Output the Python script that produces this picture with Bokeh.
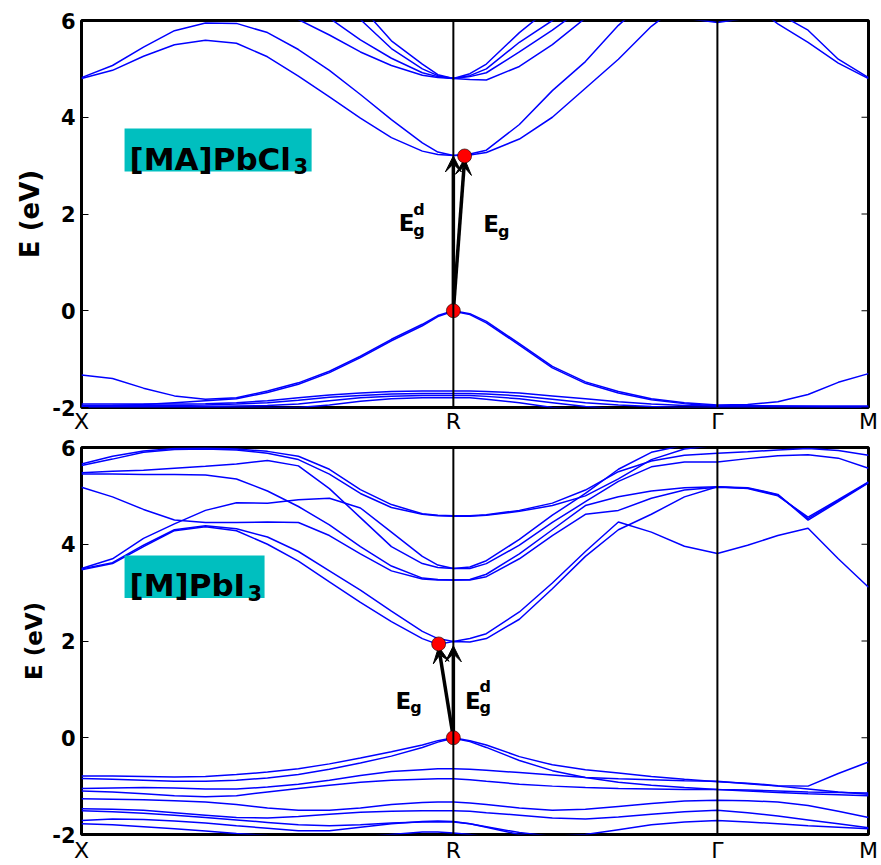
import math
from bokeh.plotting import figure
from bokeh.layouts import column
from bokeh.models import (Range1d, FixedTicker, Span, Label,
                          BoxAnnotation, Arrow, VeeHead)
from bokeh.embed import file_html
from bokeh.resources import INLINE

# ---------------- k-path sampling (fraction of path X-R-Gamma-M) ----------------
kpath = [0.0, 0.0394, 0.0788, 0.1181, 0.1575, 0.1969, 0.2363, 0.2756, 0.3150, 0.3544,
         0.3938, 0.4331, 0.4528, 0.4725,
         0.4935, 0.5144, 0.5564, 0.5983, 0.6403, 0.6822, 0.7241, 0.7661, 0.8080,
         0.8464, 0.8848, 0.9232, 0.9616, 1.0]
k_ticks = [0.0, 0.4725, 0.808, 1.0]
k_labels = ["X", "R", "Γ", "M"]
e_ticks = [-2, 0, 2, 4, 6]
e_labels = ["-2", "0", "2", "4", "6"]

# ---------------- [MA]PbCl3 bands (eV) ----------------
cl_v1 = [-1.33, -1.40, -1.60, -1.76, -1.83, -1.80, -1.66, -1.49, -1.25, -0.94, -0.59, -0.28, -0.10, 0.00,
         -0.06, -0.22, -0.68, -1.15, -1.47, -1.67, -1.82, -1.90, -1.95,
         -1.94, -1.88, -1.73, -1.48, -1.30]
cl_v2 = [-1.97, -1.96, -1.94, -1.90, -1.86, -1.82, -1.69, -1.52, -1.28, -0.97, -0.62, -0.31, -0.12, -0.01,
         -0.08, -0.25, -0.71, -1.18, -1.50, -1.70, -1.84, -1.92, -1.97,
         -1.96, -1.97, -1.98, -1.99, -2.00]
cl_l1 = [-1.93, -1.93, -1.93, -1.93, -1.92, -1.90, -1.86, -1.80, -1.74, -1.70, -1.67, -1.66, -1.66, -1.66,
         -1.66, -1.67, -1.70, -1.76, -1.82, -1.88, -1.93, -1.96, -1.97,
         -1.97, -1.97, -1.97, -1.97, -1.97]
cl_l2 = [-1.96, -1.96, -1.96, -1.96, -1.95, -1.93, -1.90, -1.85, -1.79, -1.75, -1.72, -1.71, -1.71, -1.71,
         -1.71, -1.72, -1.76, -1.83, -1.90, -1.95, -1.98, -2.00, -2.00,
         -2.00, -2.00, -2.00, -2.00, -1.99]
cl_l3 = [-1.98, -1.98, -1.98, -1.98, -1.98, -1.97, -1.96, -1.93, -1.86, -1.80, -1.77, -1.75, -1.75, -1.75,
         -1.75, -1.77, -1.82, -1.90, -1.98, -2.03, -2.06, -2.08, -2.08,
         -2.08, -2.08, -2.08, -2.08, -2.08]
cl_l4 = [-2.00, -2.00, -2.00, -2.00, -2.00, -2.00, -2.00, -2.00, -1.95, -1.87, -1.82, -1.80, -1.80, -1.80,
         -1.80, -1.83, -1.90, -2.00, -2.05, -2.10, -2.12, -2.13, -2.13,
         -2.13, -2.13, -2.13, -2.13, -2.13]
cl_c1 = [4.80, 4.97, 5.26, 5.50, 5.59, 5.53, 5.25, 4.85, 4.42, 3.98, 3.58, 3.30, 3.23, 3.21,
         3.24, 3.32, 3.85, 4.55, 5.15, 5.90, 6.50, 6.80, 6.90,
         6.40, 5.93, 5.55, 5.12, 4.80]
cl_c2 = [4.82, 5.07, 5.45, 5.79, 5.95, 5.94, 5.75, 5.40, 4.97, 4.47, 3.95, 3.47, 3.28, 3.21,
         3.22, 3.27, 3.55, 4.00, 4.60, 5.20, 5.88, 6.40, 6.60,
         6.50, 6.15, 5.80, 5.20, 4.82]
cl_d1 = [7.50, 7.40, 7.30, 7.10, 6.90, 6.60, 6.30, 6.02, 5.70, 5.35, 5.07, 4.87, 4.82, 4.80,
         4.90, 5.10, 5.75, 6.30, 6.80, 7.20, 7.50, 7.70, 7.80,
         7.70, 7.50, 7.30, 7.10, 7.00]
cl_d2 = [7.80, 7.70, 7.60, 7.40, 7.20, 6.90, 6.60, 6.35, 6.05, 5.60, 5.22, 4.92, 4.84, 4.80,
         4.86, 5.00, 5.55, 6.00, 6.50, 6.90, 7.20, 7.40, 7.50,
         7.40, 7.30, 7.20, 7.10, 7.00]
cl_d3 = [8.00, 8.00, 7.90, 7.80, 7.60, 7.30, 7.00, 6.70, 6.40, 6.02, 5.42, 5.00, 4.86, 4.80,
         4.84, 4.92, 5.35, 5.80, 6.30, 6.70, 7.00, 7.20, 7.30,
         7.30, 7.20, 7.10, 7.00, 7.00]
cl_d4 = [8.20, 8.20, 8.10, 8.00, 7.80, 7.50, 7.20, 6.90, 6.65, 6.30, 5.58, 5.10, 4.88, 4.80,
         4.78, 4.77, 5.05, 5.50, 6.05, 6.50, 6.80, 7.00, 7.10,
         7.10, 7.00, 7.00, 7.00, 7.00]
cl_g = [8.80, 8.80, 8.70, 8.60, 8.50, 8.40, 8.30, 8.20, 8.10, 8.00, 7.90, 7.80, 7.80, 7.80,
        7.70, 7.60, 7.40, 7.10, 6.80, 6.50, 6.25, 6.05, 5.96,
        6.05, 6.30, 6.60, 6.90, 7.10]
cl_bands = [cl_v1, cl_v2, cl_l1, cl_l2, cl_l3, cl_l4, cl_c1, cl_c2,
            cl_d1, cl_d2, cl_d3, cl_d4, cl_g]

# ---------------- [M]PbI3 bands (eV) ----------------
pbi_t1 = [5.66, 5.82, 5.93, 5.98, 5.99, 5.97, 5.92, 5.82, 5.55, 5.13, 4.82, 4.63, 4.60, 4.59,
          4.59, 4.61, 4.70, 4.85, 5.12, 5.50, 5.72, 5.84, 5.88,
          5.91, 5.95, 5.98, 5.94, 5.84]
pbi_t2 = [5.63, 5.76, 5.90, 5.96, 5.97, 5.95, 5.88, 5.75, 5.45, 5.05, 4.76, 4.62, 4.59, 4.58,
          4.58, 4.60, 4.68, 4.80, 5.00, 5.35, 5.75, 5.97, 6.05,
          6.10, 6.20, 6.30, 6.30, 6.30]
pbi_p1 = [5.48, 5.51, 5.53, 5.57, 5.61, 5.66, 5.73, 5.62, 5.15, 4.55, 3.95, 3.60, 3.52, 3.50,
          3.53, 3.66, 4.10, 4.60, 5.05, 5.55, 5.90, 6.05, 6.10,
          6.20, 6.30, 6.40, 6.50, 6.50]
pbi_p2 = [5.45, 5.45, 5.44, 5.44, 5.43, 5.35, 5.10, 4.78, 4.40, 3.95, 3.55, 3.30, 3.27, 3.26,
          3.27, 3.38, 3.80, 4.30, 4.80, 4.98, 5.10, 5.17, 5.19,
          5.17, 5.03, 4.50, 4.88, 5.27]
pbi_p3 = [5.18, 4.98, 4.72, 4.50, 4.45, 4.45, 4.46, 4.45, 4.18, 3.80, 3.45, 3.28, 3.26, 3.26,
          3.26, 3.33, 3.70, 4.18, 4.62, 4.70, 4.95, 5.12, 5.18,
          5.16, 5.02, 4.53, 4.90, 5.28]
pbi_p4 = [3.50, 3.70, 4.12, 4.42, 4.70, 4.86, 4.85, 4.92, 4.95, 4.75, 4.25, 3.75, 3.57, 3.50,
          3.50, 3.60, 3.98, 4.45, 4.88, 5.30, 5.60, 5.70, 5.70,
          5.77, 5.83, 5.85, 5.78, 5.57]
pbi_c1 = [3.49, 3.62, 3.98, 4.30, 4.38, 4.32, 4.15, 3.85, 3.45, 3.05, 2.62, 2.20, 2.05, 1.99,
          2.05, 2.15, 2.60, 3.20, 3.85, 4.46, 4.25, 3.96, 3.81,
          3.98, 4.18, 4.33, 3.70, 3.11]
pbi_c2 = [3.47, 3.60, 3.95, 4.28, 4.36, 4.28, 4.00, 3.65, 3.22, 2.80, 2.40, 2.05, 1.93, 1.99,
          1.98, 2.05, 2.45, 3.08, 3.75, 4.30, 4.62, 4.98, 5.19,
          5.15, 5.00, 4.56, 4.92, 5.29]
pbi_v1 = [-0.79, -0.79, -0.80, -0.81, -0.80, -0.76, -0.71, -0.64, -0.54, -0.42, -0.29, -0.15, -0.06, 0.00,
          -0.06, -0.15, -0.39, -0.56, -0.66, -0.73, -0.80, -0.86, -0.91,
          -0.94, -0.99, -1.00, -0.74, -0.50]
pbi_v2 = [-0.84, -0.86, -0.88, -0.90, -0.90, -0.88, -0.83, -0.76, -0.65, -0.52, -0.38, -0.20, -0.09, -0.01,
          -0.08, -0.20, -0.47, -0.68, -0.82, -0.92, -0.98, -1.03, -1.07,
          -1.08, -1.10, -1.12, -1.13, -1.14]
pbi_v3 = [-1.05, -1.04, -1.03, -1.04, -1.06, -1.06, -1.02, -0.96, -0.88, -0.78, -0.70, -0.66, -0.64, -0.64,
          -0.65, -0.67, -0.72, -0.77, -0.82, -0.85, -0.87, -0.89, -0.90,
          -0.95, -1.00, -1.06, -1.12, -1.17]
pbi_v4 = [-1.10, -1.12, -1.16, -1.20, -1.22, -1.20, -1.12, -1.05, -0.98, -0.92, -0.88, -0.86, -0.85, -0.85,
          -0.87, -0.90, -0.96, -1.00, -1.03, -1.05, -1.06, -1.07, -1.07,
          -1.10, -1.13, -1.16, -1.18, -1.20]
pbi_v5 = [-1.26, -1.27, -1.28, -1.30, -1.33, -1.38, -1.45, -1.50, -1.50, -1.45, -1.38, -1.34, -1.33, -1.33,
          -1.35, -1.38, -1.45, -1.50, -1.48, -1.42, -1.36, -1.31, -1.29,
          -1.30, -1.33, -1.40, -1.52, -1.65]
pbi_v6 = [-1.47, -1.48, -1.50, -1.55, -1.60, -1.65, -1.66, -1.63, -1.58, -1.54, -1.52, -1.51, -1.51, -1.51,
          -1.52, -1.55, -1.60, -1.66, -1.68, -1.64, -1.58, -1.53, -1.50,
          -1.55, -1.62, -1.70, -1.78, -1.86]
pbi_v7 = [-1.51, -1.53, -1.56, -1.60, -1.65, -1.70, -1.75, -1.80, -1.82, -1.80, -1.76, -1.74, -1.74, -1.74,
          -1.78, -1.84, -1.96, -2.04, -2.00, -1.90, -1.80, -1.74, -1.71,
          -1.74, -1.78, -1.82, -1.85, -1.88]
pbi_v8 = [-1.71, -1.68, -1.69, -1.72, -1.76, -1.82, -1.87, -1.92, -1.92, -1.85, -1.78, -1.73, -1.72, -1.73,
          -1.78, -1.85, -2.00, -2.10, -2.15, -2.15, -2.15, -2.15, -2.15,
          -2.15, -2.15, -2.15, -2.15, -2.15]
pbi_v9 = [-1.78, -1.80, -1.84, -1.88, -1.93, -1.98, -2.02, -2.05, -2.05, -2.05, -2.00, -1.95, -1.95, -1.97,
          -2.00, -2.05, -2.15, -2.20, -2.20, -2.20, -2.20, -2.20, -2.20,
          -2.20, -2.20, -2.20, -2.20, -2.20]
pbi_bands = [pbi_t1, pbi_t2, pbi_p1, pbi_p2, pbi_p3, pbi_p4, pbi_c1, pbi_c2,
             pbi_v1, pbi_v2, pbi_v3, pbi_v4, pbi_v5, pbi_v6, pbi_v7, pbi_v8, pbi_v9]

# band-edge points (k, E)
cl_vbm = [0.4725, 0.0]
cl_cbm = [0.4868, 3.20]
pbi_vbm = [0.4725, 0.0]
pbi_cbm = [0.4538, 1.94]

FONT = "DejaVu Sans"
BAND_COLOR = "#0000ff"
BOX_COLOR = "#00bfbf"


def make_panel(bands, min_top, ylabel_size, ylabel_standoff, xlabel_standoff):
    p = figure(frame_width=787, frame_height=387,
               x_range=Range1d(0, 1), y_range=Range1d(-2, 6),
               output_backend="svg", toolbar_location=None,
               min_border_left=81, min_border_right=13,
               min_border_top=min_top, min_border_bottom=0)
    p.xgrid.grid_line_color = None
    p.ygrid.grid_line_color = None
    p.outline_line_color = "black"
    p.outline_line_width = 3
    p.background_fill_color = "white"

    for b in bands:
        assert len(b) == len(kpath)
        p.line(kpath, b, line_color=BAND_COLOR, line_width=1.5)

    for kx in k_ticks[1:3]:
        p.add_layout(Span(location=kx, dimension="height",
                          line_color="black", line_width=2))

    # inward ticks on the right frame edge
    p.ray(x=[p.x_range.end] * len(e_ticks), y=e_ticks, length=7, length_units="screen",
          angle=math.pi, line_color="black", line_width=1)

    # x axis
    xa = p.xaxis[0]
    xa.ticker = FixedTicker(ticks=k_ticks)
    xa.major_label_overrides = {k: lab for k, lab in zip(k_ticks, k_labels)}
    xa.major_label_text_font = FONT
    xa.major_label_text_font_size = "22px"
    xa.major_label_text_color = "black"
    xa.major_tick_line_color = None
    xa.major_tick_in = 0
    xa.major_tick_out = 0
    xa.minor_tick_line_color = None
    xa.minor_tick_in = 0
    xa.minor_tick_out = 0
    xa.axis_line_color = None
    xa.major_label_standoff = xlabel_standoff

    # y axis
    ya = p.yaxis[0]
    ya.ticker = FixedTicker(ticks=e_ticks)
    ya.major_label_overrides = {t: lab for t, lab in zip(e_ticks, e_labels)}
    ya.major_label_text_font = FONT
    ya.major_label_text_font_style = "bold"
    ya.major_label_text_font_size = "21px"
    ya.major_label_text_color = "black"
    ya.major_tick_in = 7
    ya.major_tick_out = 0
    ya.major_tick_line_color = "black"
    ya.minor_tick_line_color = None
    ya.minor_tick_out = 0
    ya.axis_line_color = None
    ya.major_label_standoff = 6
    ya.axis_label = "E (eV)"
    ya.axis_label_text_font = FONT
    ya.axis_label_text_font_style = "bold"
    ya.axis_label_text_font_size = ylabel_size
    ya.axis_label_text_color = "black"
    ya.axis_label_standoff = ylabel_standoff
    return p


def add_name(p, main, left, right, bottom, top, sub_x):
    p.add_layout(BoxAnnotation(left=left, right=right, bottom=bottom, top=top,
                               fill_color=BOX_COLOR, fill_alpha=1.0, line_color=None))
    p.add_layout(Label(x=left + 0.0063, y=bottom + 0.26, text=main,
                       text_font=FONT, text_font_style="bold", text_font_size="31px",
                       text_color="black", text_align="left", text_baseline="alphabetic"))
    p.add_layout(Label(x=sub_x, y=bottom + 0.11, text="3",
                       text_font=FONT, text_font_style="bold", text_font_size="21px",
                       text_color="black", text_align="left", text_baseline="alphabetic"))


def add_eg(p, x, y, with_d):
    p.add_layout(Label(x=x, y=y, text="E", text_font=FONT, text_font_style="bold",
                       text_font_size="23px", text_color="black",
                       text_align="left", text_baseline="alphabetic"))
    p.add_layout(Label(x=x + 0.0185, y=y - 0.15, text="g", text_font=FONT,
                       text_font_style="bold", text_font_size="16px", text_color="black",
                       text_align="left", text_baseline="alphabetic"))
    if with_d:
        p.add_layout(Label(x=x + 0.0185, y=y + 0.29, text="d", text_font=FONT,
                           text_font_style="bold", text_font_size="16px", text_color="black",
                           text_align="left", text_baseline="alphabetic"))


def add_gap(p, vbm, cbm, tip_direct, tip_indirect):
    for (xe, ye) in [(vbm[0], tip_direct), (cbm[0], tip_indirect)]:
        p.add_layout(Arrow(end=VeeHead(size=16, fill_color="black", line_color="black"),
                           line_color="black", line_width=3.5,
                           x_start=vbm[0], y_start=vbm[1], x_end=xe, y_end=ye,
                           level="underlay"))
    p.scatter([vbm[0], cbm[0]], [vbm[1], cbm[1]], size=14, marker="circle",
              fill_color="red", line_color="black", line_width=0.6)


# ---------------- top panel: [MA]PbCl3 ----------------
p1 = make_panel(cl_bands, 20, "26px", 4, 1)
add_name(p1, "[MA]PbCl", 0.0547, 0.2924, 2.88, 3.77, 0.2695)
add_gap(p1, cl_vbm, cl_cbm, 3.20, 3.14)
add_eg(p1, 0.403, 1.81, True)
add_eg(p1, 0.5106, 1.79, False)

# ---------------- bottom panel: [M]PbI3 ----------------
p2 = make_panel(pbi_bands, 11, "23px", 2, 3)
add_name(p2, "[M]PbI", 0.0547, 0.2326, 2.89, 3.77, 0.211)
add_gap(p2, pbi_vbm, pbi_cbm, 1.90, 1.88)
add_eg(p2, 0.3991, 0.77, False)
add_eg(p2, 0.4872, 0.77, True)

layout = column(p1, p2, spacing=0)
open("out.html", "w").write(file_html(layout, INLINE))
